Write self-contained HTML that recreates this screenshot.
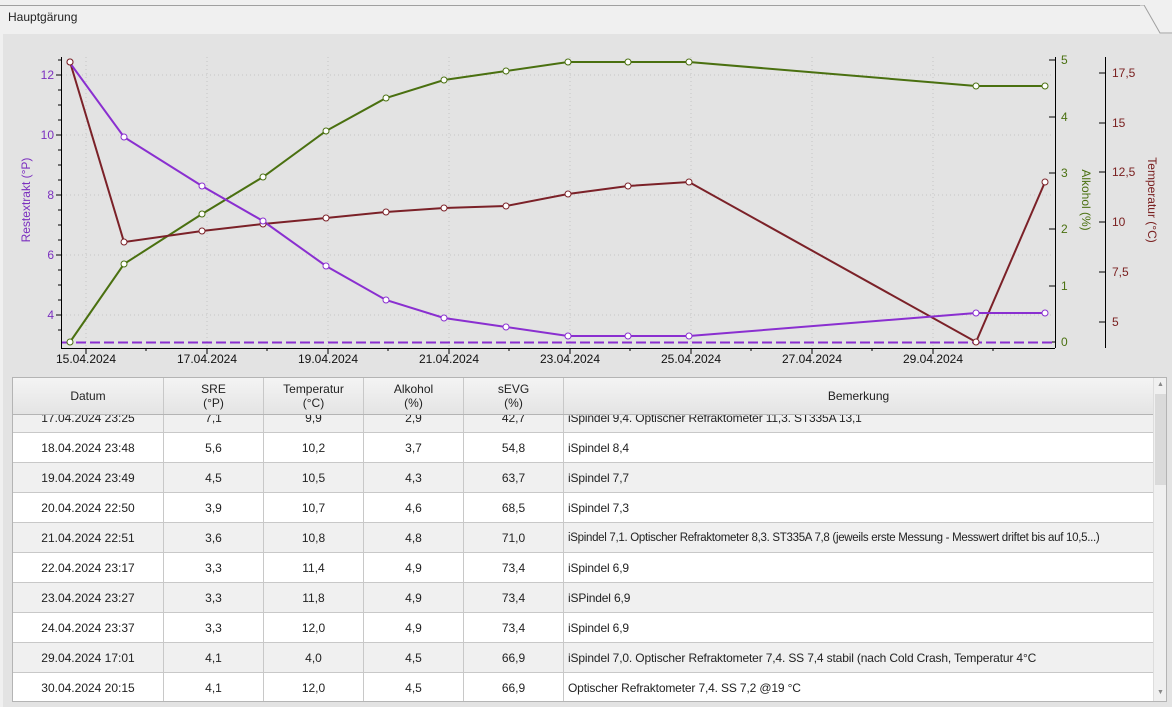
<!DOCTYPE html>
<html><head><meta charset="utf-8"><style>
body{margin:0;width:1172px;height:707px;background:#f0f0f0;font-family:"Liberation Sans",sans-serif;overflow:hidden;position:relative}
.abs{position:absolute}
.tb{position:absolute;left:12px;top:377px;width:1155px;height:325px;background:#fff;border:1px solid #b4b4b4;box-sizing:border-box;overflow:hidden}
.row{position:absolute;left:0;width:1141px;height:30px;border-bottom:1px solid #c8c8c8;box-sizing:border-box;font-size:12px;color:#222;white-space:nowrap}
.row div,.hd div{position:absolute;top:0;height:100%;border-right:1px solid #c8c8c8;box-sizing:border-box;display:flex;align-items:center;justify-content:center;overflow:hidden}
.row div.l{justify-content:flex-start;padding-left:4px;letter-spacing:-0.15px}
.hd{position:absolute;left:0;top:0;width:1141px;height:37px;background:linear-gradient(#f4f4f4,#e4e4e4);border-bottom:1px solid #b4b4b4;box-sizing:border-box;font-size:12px;color:#222;text-align:center;line-height:14px}
</style></head><body>
<div class="abs" style="left:0;top:5px;width:1140px;height:1px;background:#a0a0a0"></div>
<svg class="abs" style="left:1130px;top:5px" width="42" height="30"><path d="M0 0 L14 0 L30 28 L42 28" fill="none" stroke="#a0a0a0"/></svg>
<div class="abs" style="left:8px;top:10px;font-size:12px;color:#222">Hauptgärung</div>
<div class="abs" style="left:3px;top:34px;width:1169px;height:673px;background:#e3e3e3"></div>
<svg class="abs" style="left:0;top:0" width="1172" height="375" font-family="Liberation Sans, sans-serif" font-size="12">
<g stroke="#c4c4c4" stroke-dasharray="1,3">
<line x1="62" x2="1054" y1="75" y2="75"/><line x1="62" x2="1054" y1="135" y2="135"/><line x1="62" x2="1054" y1="195" y2="195"/><line x1="62" x2="1054" y1="255" y2="255"/><line x1="62" x2="1054" y1="315" y2="315"/>
<line x1="86" x2="86" y1="57" y2="348"/><line x1="207" x2="207" y1="57" y2="348"/><line x1="328" x2="328" y1="57" y2="348"/><line x1="449" x2="449" y1="57" y2="348"/><line x1="570" x2="570" y1="57" y2="348"/><line x1="691" x2="691" y1="57" y2="348"/><line x1="812" x2="812" y1="57" y2="348"/><line x1="933" x2="933" y1="57" y2="348"/>
</g>
<g stroke="#000" stroke-width="1">
<line x1="61.5" x2="61.5" y1="57" y2="348"/><line x1="61" x2="1055" y1="348.5" y2="348.5"/>
<line x1="1055.5" x2="1055.5" y1="57" y2="348"/><line x1="1105.5" x2="1105.5" y1="57" y2="348"/>
<line x1="56" x2="61" y1="75" y2="75"/><line x1="56" x2="61" y1="135" y2="135"/><line x1="56" x2="61" y1="195" y2="195"/><line x1="56" x2="61" y1="255" y2="255"/><line x1="56" x2="61" y1="315" y2="315"/>
<line x1="58" x2="61" y1="60" y2="60"/><line x1="58" x2="61" y1="90" y2="90"/><line x1="58" x2="61" y1="105" y2="105"/><line x1="58" x2="61" y1="120" y2="120"/><line x1="58" x2="61" y1="150" y2="150"/><line x1="58" x2="61" y1="165" y2="165"/><line x1="58" x2="61" y1="180" y2="180"/><line x1="58" x2="61" y1="210" y2="210"/><line x1="58" x2="61" y1="225" y2="225"/><line x1="58" x2="61" y1="240" y2="240"/><line x1="58" x2="61" y1="270" y2="270"/><line x1="58" x2="61" y1="285" y2="285"/><line x1="58" x2="61" y1="300" y2="300"/><line x1="58" x2="61" y1="330" y2="330"/>
<line x1="86" x2="86" y1="348" y2="354"/><line x1="207" x2="207" y1="348" y2="354"/><line x1="328" x2="328" y1="348" y2="354"/><line x1="449" x2="449" y1="348" y2="354"/><line x1="570" x2="570" y1="348" y2="354"/><line x1="691" x2="691" y1="348" y2="354"/><line x1="812" x2="812" y1="348" y2="354"/><line x1="933" x2="933" y1="348" y2="354"/>
<line x1="146" x2="146" y1="348" y2="351"/><line x1="267" x2="267" y1="348" y2="351"/><line x1="388" x2="388" y1="348" y2="351"/><line x1="509" x2="509" y1="348" y2="351"/><line x1="630" x2="630" y1="348" y2="351"/><line x1="751" x2="751" y1="348" y2="351"/><line x1="872" x2="872" y1="348" y2="351"/><line x1="993" x2="993" y1="348" y2="351"/>
<line x1="1049" x2="1055" y1="60" y2="60"/><line x1="1049" x2="1055" y1="117" y2="117"/><line x1="1049" x2="1055" y1="173" y2="173"/><line x1="1049" x2="1055" y1="229" y2="229"/><line x1="1049" x2="1055" y1="286" y2="286"/><line x1="1049" x2="1055" y1="342" y2="342"/>
<line x1="1099" x2="1105" y1="73" y2="73"/><line x1="1099" x2="1105" y1="123" y2="123"/><line x1="1099" x2="1105" y1="172" y2="172"/><line x1="1099" x2="1105" y1="222" y2="222"/><line x1="1099" x2="1105" y1="272" y2="272"/><line x1="1099" x2="1105" y1="322" y2="322"/>
</g>
<g fill="#7b2fbf" text-anchor="end"><text x="54" y="79">12</text><text x="54" y="139">10</text><text x="54" y="199">8</text><text x="54" y="259">6</text><text x="54" y="319">4</text></g>
<text fill="#7b2fbf" transform="translate(30,200) rotate(-90)" text-anchor="middle">Restextrakt (°P)</text>
<g fill="#4a7010"><text x="1061" y="64">5</text><text x="1061" y="121">4</text><text x="1061" y="177">3</text><text x="1061" y="233">2</text><text x="1061" y="290">1</text><text x="1061" y="346">0</text></g>
<text fill="#4a7010" transform="translate(1082,200) rotate(90)" text-anchor="middle">Alkohol (%)</text>
<g fill="#7a2020"><text x="1112" y="77">17,5</text><text x="1112" y="127">15</text><text x="1112" y="176">12,5</text><text x="1112" y="226">10</text><text x="1112" y="276">7,5</text><text x="1112" y="326">5</text></g>
<text fill="#7a2020" transform="translate(1148,200) rotate(90)" text-anchor="middle">Temperatur (°C)</text>
<g fill="#111" text-anchor="middle"><text x="86" y="363">15.04.2024</text><text x="207" y="363">17.04.2024</text><text x="328" y="363">19.04.2024</text><text x="449" y="363">21.04.2024</text><text x="570" y="363">23.04.2024</text><text x="691" y="363">25.04.2024</text><text x="812" y="363">27.04.2024</text><text x="933" y="363">29.04.2024</text></g>
<line x1="62" x2="1054" y1="342.5" y2="342.5" stroke="#8a2fd0" stroke-width="2" stroke-dasharray="10,4"/>
<g fill="#fff" stroke-width="2">
<polyline fill="none" stroke="#4a7010" points="70,342 124,264 202,214 263,177 326,131 386,98 444,80 506,71 568,62 628,62 689,62 976,86 1045,86"/>
<polyline fill="none" stroke="#7b2128" points="70,62 124,242 202,231 263,224 326,218 386,212 444,208 506,206 568,194 628,186 689,182 976,342 1045,182"/>
<polyline fill="none" stroke="#8a2fd0" points="70,63 124,137 202,186 263,221 326,266 386,300 444,318 506,327 568,336 628,336 689,336 976,313 1045,313"/>
</g>
<g fill="#fff" stroke-width="1">
<g stroke="#4a7010"><circle cx="70" cy="342" r="3"/><circle cx="124" cy="264" r="3"/><circle cx="202" cy="214" r="3"/><circle cx="263" cy="177" r="3"/><circle cx="326" cy="131" r="3"/><circle cx="386" cy="98" r="3"/><circle cx="444" cy="80" r="3"/><circle cx="506" cy="71" r="3"/><circle cx="568" cy="62" r="3"/><circle cx="628" cy="62" r="3"/><circle cx="689" cy="62" r="3"/><circle cx="976" cy="86" r="3"/><circle cx="1045" cy="86" r="3"/></g>
<g stroke="#7b2128"><circle cx="70" cy="62" r="3"/><circle cx="124" cy="242" r="3"/><circle cx="202" cy="231" r="3"/><circle cx="263" cy="224" r="3"/><circle cx="326" cy="218" r="3"/><circle cx="386" cy="212" r="3"/><circle cx="444" cy="208" r="3"/><circle cx="506" cy="206" r="3"/><circle cx="568" cy="194" r="3"/><circle cx="628" cy="186" r="3"/><circle cx="689" cy="182" r="3"/><circle cx="976" cy="342" r="3"/><circle cx="1045" cy="182" r="3"/></g>
<g stroke="#8a2fd0"><circle cx="124" cy="137" r="3"/><circle cx="202" cy="186" r="3"/><circle cx="263" cy="221" r="3"/><circle cx="326" cy="266" r="3"/><circle cx="386" cy="300" r="3"/><circle cx="444" cy="318" r="3"/><circle cx="506" cy="327" r="3"/><circle cx="568" cy="336" r="3"/><circle cx="628" cy="336" r="3"/><circle cx="689" cy="336" r="3"/><circle cx="976" cy="313" r="3"/><circle cx="1045" cy="313" r="3"/></g>
<circle cx="70" cy="62" r="3" stroke="#7b2128"/>
</g>
</svg>
<div class="tb">
<div class="row" style="top:25px;background:#f0f0f0"><div style="left:0;width:151px">17.04.2024 23:25</div><div style="left:151px;width:100px">7,1</div><div style="left:251px;width:100px">9,9</div><div style="left:351px;width:100px">2,9</div><div style="left:451px;width:100px">42,7</div><div class="l" style="left:551px;width:590px">iSpindel 9,4. Optischer Refraktometer 11,3. ST335A 13,1</div></div>
<div class="row" style="top:55px;background:#fff"><div style="left:0;width:151px">18.04.2024 23:48</div><div style="left:151px;width:100px">5,6</div><div style="left:251px;width:100px">10,2</div><div style="left:351px;width:100px">3,7</div><div style="left:451px;width:100px">54,8</div><div class="l" style="left:551px;width:590px">iSpindel 8,4</div></div>
<div class="row" style="top:85px;background:#f0f0f0"><div style="left:0;width:151px">19.04.2024 23:49</div><div style="left:151px;width:100px">4,5</div><div style="left:251px;width:100px">10,5</div><div style="left:351px;width:100px">4,3</div><div style="left:451px;width:100px">63,7</div><div class="l" style="left:551px;width:590px">iSpindel 7,7</div></div>
<div class="row" style="top:115px;background:#fff"><div style="left:0;width:151px">20.04.2024 22:50</div><div style="left:151px;width:100px">3,9</div><div style="left:251px;width:100px">10,7</div><div style="left:351px;width:100px">4,6</div><div style="left:451px;width:100px">68,5</div><div class="l" style="left:551px;width:590px">iSpindel 7,3</div></div>
<div class="row" style="top:145px;background:#f0f0f0"><div style="left:0;width:151px">21.04.2024 22:51</div><div style="left:151px;width:100px">3,6</div><div style="left:251px;width:100px">10,8</div><div style="left:351px;width:100px">4,8</div><div style="left:451px;width:100px">71,0</div><div class="l" style="left:551px;width:590px;font-size:11.5px;letter-spacing:-0.3px">iSpindel 7,1. Optischer Refraktometer 8,3. ST335A 7,8 (jeweils erste Messung - Messwert driftet bis auf 10,5...)</div></div>
<div class="row" style="top:175px;background:#fff"><div style="left:0;width:151px">22.04.2024 23:17</div><div style="left:151px;width:100px">3,3</div><div style="left:251px;width:100px">11,4</div><div style="left:351px;width:100px">4,9</div><div style="left:451px;width:100px">73,4</div><div class="l" style="left:551px;width:590px">iSpindel 6,9</div></div>
<div class="row" style="top:205px;background:#f0f0f0"><div style="left:0;width:151px">23.04.2024 23:27</div><div style="left:151px;width:100px">3,3</div><div style="left:251px;width:100px">11,8</div><div style="left:351px;width:100px">4,9</div><div style="left:451px;width:100px">73,4</div><div class="l" style="left:551px;width:590px">iSPindel 6,9</div></div>
<div class="row" style="top:235px;background:#fff"><div style="left:0;width:151px">24.04.2024 23:37</div><div style="left:151px;width:100px">3,3</div><div style="left:251px;width:100px">12,0</div><div style="left:351px;width:100px">4,9</div><div style="left:451px;width:100px">73,4</div><div class="l" style="left:551px;width:590px">iSpindel 6,9</div></div>
<div class="row" style="top:265px;background:#f0f0f0"><div style="left:0;width:151px">29.04.2024 17:01</div><div style="left:151px;width:100px">4,1</div><div style="left:251px;width:100px">4,0</div><div style="left:351px;width:100px">4,5</div><div style="left:451px;width:100px">66,9</div><div class="l" style="left:551px;width:590px">iSpindel 7,0. Optischer Refraktometer 7,4. SS 7,4 stabil (nach Cold Crash, Temperatur 4°C</div></div>
<div class="row" style="top:295px;background:#fff"><div style="left:0;width:151px">30.04.2024 20:15</div><div style="left:151px;width:100px">4,1</div><div style="left:251px;width:100px">12,0</div><div style="left:351px;width:100px">4,5</div><div style="left:451px;width:100px">66,9</div><div class="l" style="left:551px;width:590px">Optischer Refraktometer 7,4. SS 7,2 @19 °C</div></div>
<div class="hd"><div style="left:0;width:151px">Datum</div><div style="left:151px;width:100px">SRE<br>(°P)</div><div style="left:251px;width:100px">Temperatur<br>(°C)</div><div style="left:351px;width:100px">Alkohol<br>(%)</div><div style="left:451px;width:100px">sEVG<br>(%)</div><div style="left:551px;width:590px">Bemerkung</div></div>
<div style="position:absolute;left:1140px;top:0;width:14px;height:324px;background:#f0f0f0;border-left:1px solid #ddd"><div style="position:absolute;left:1px;top:16px;width:12px;height:91px;background:#dadada"></div><div style="position:absolute;left:3px;top:3px;font-size:7px;color:#888">▲</div><div style="position:absolute;left:3px;top:311px;font-size:7px;color:#888">▼</div></div>
</div>
</body></html>
